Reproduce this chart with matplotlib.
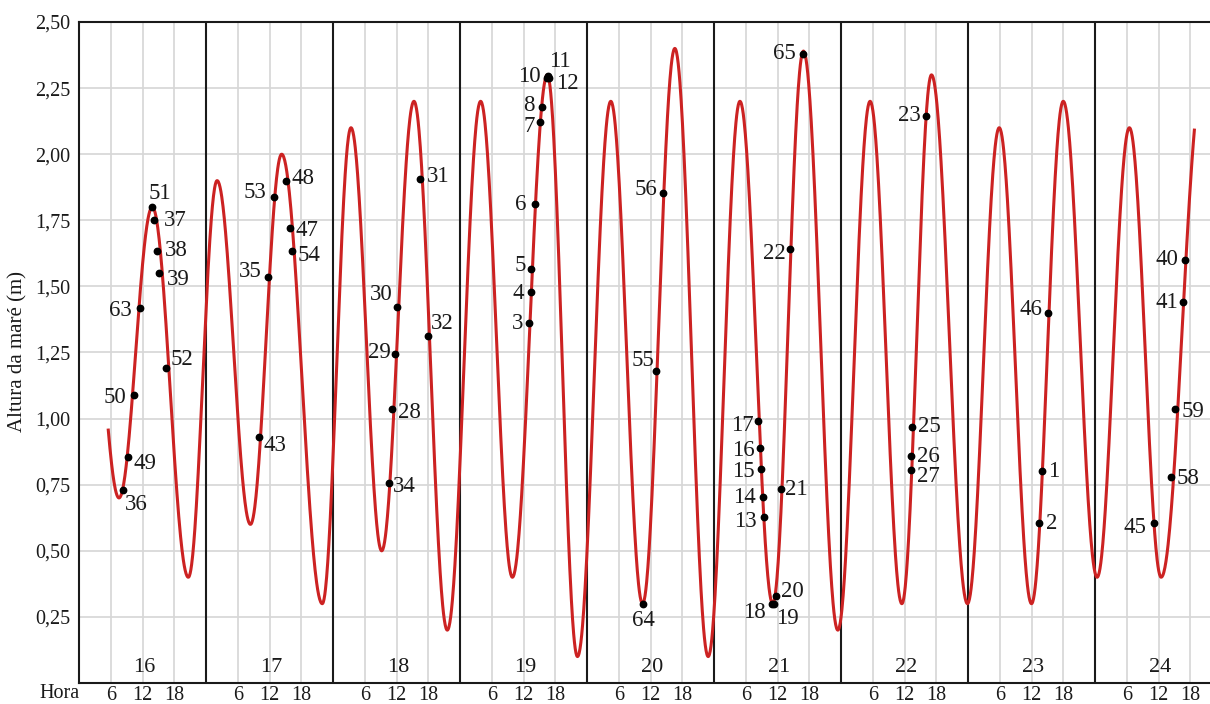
import numpy as np
import matplotlib.pyplot as plt

# hours counted from day 16, 00h
days = [16, 17, 18, 19, 20, 21, 22, 23, 24]

# high / low tide turning points (first and last are just off the drawn part)
tide_hours = [1.4, 7.56, 13.85, 20.66, 26.1, 32.4, 38.3, 45.97, 51.4, 57.2, 63.3, 69.6,
              75.9, 81.9, 88.5, 94.2, 100.5, 106.5, 112.6, 118.9, 124.9, 131.1, 136.9,
              143.4, 149.5, 155.5, 161.1, 167.9, 173.9, 180.0, 186.0, 192.4, 198.5,
              204.5, 212.5]
tide_heights = [1.75, 0.70, 1.80, 0.40, 1.90, 0.60, 2.00, 0.30, 2.10, 0.50, 2.20, 0.20,
                2.20, 0.40, 2.30, 0.10, 2.20, 0.30, 2.40, 0.10, 2.20, 0.30, 2.39,
                0.20, 2.20, 0.30, 2.30, 0.30, 2.10, 0.30, 2.20, 0.40, 2.10,
                0.40, 2.30]
curve_start = 5.5
curve_end = 210.8

# numbered observation points
point_ids = [51, 37, 38, 39, 63, 52, 50, 49, 36,
             53, 48, 47, 54, 35, 43,
             31, 30, 32, 29, 28, 34,
             10, 11, 12, 8, 7, 6, 5, 4, 3,
             56, 55, 64,
             65, 22, 17, 16, 15, 14, 13, 21, 18, 19, 20,
             23, 25, 26, 27,
             46, 1, 2,
             40, 41, 59, 58, 45]
point_hours = [13.85, 14.2, 14.8, 15.2, 11.5, 16.4, 10.3, 9.2, 8.26,
               36.9, 39.1, 39.9, 40.25, 35.8, 34.0,
               64.5, 60.15, 65.9, 59.8, 59.15, 58.5,
               88.4, 88.6, 88.8, 87.55, 87.2, 86.2, 85.5, 85.35, 85.1,
               110.4, 109.0, 106.6,
               136.9, 134.4, 128.4, 128.7, 128.9, 129.2, 129.4, 132.6, 130.9, 131.4, 131.7,
               160.1, 157.5, 157.2, 157.2,
               183.2, 181.9, 181.4,
               209.0, 208.6, 207.1, 206.3, 203.2]
point_heights = [1.80, 1.75, 1.635, 1.55, 1.42, 1.19, 1.09, 0.856, 0.73,
                 1.837, 1.90, 1.72, 1.635, 1.537, 0.93,
                 1.905, 1.423, 1.313, 1.244, 1.036, 0.755,
                 2.29, 2.295, 2.29, 2.177, 2.12, 1.81, 1.567, 1.478, 1.36,
                 1.852, 1.18, 0.30,
                 2.38, 1.64, 0.99, 0.89, 0.81, 0.705, 0.628, 0.735, 0.30, 0.30, 0.33,
                 2.145, 0.97, 0.86, 0.805,
                 1.40, 0.80, 0.605,
                 1.60, 1.44, 1.035, 0.78, 0.605]

# label offsets from each dot, in pixels (right, up)
label_offsets = {
    51: (8, 14), 37: (21, 0), 38: (19, 0), 39: (19, -6), 63: (-19, -3), 52: (16, 9),
    50: (-19, -3), 49: (17, -7), 36: (14, -15),
    53: (-19, 5), 48: (17, 2), 47: (17, -2), 54: (17, -5), 35: (-18, 5), 43: (16, -8),
    31: (18, 3), 30: (-16, 12), 32: (15, 12), 29: (-16, 2), 28: (17, -3), 34: (16, -3),
    10: (-17, 1), 11: (12, 15), 12: (18, -6), 8: (-13, 2), 7: (-11, -4), 6: (-14, 0),
    5: (-11, 3), 4: (-12, -1), 3: (-12, 0),
    56: (-17, 4), 55: (-13, 11), 64: (0, -17),
    65: (-19, 0), 22: (-16, -4), 17: (-16, -4), 16: (-17, -3), 15: (-18, -3),
    14: (-18, -1), 13: (-18, -5), 21: (16, -1), 18: (-17, -9), 19: (13, -15), 20: (16, 4),
    23: (-17, 0), 25: (17, 0), 26: (18, -1), 27: (18, -6),
    46: (-17, 3), 1: (12, 0), 2: (13, 0),
    40: (-18, 0), 41: (-16, 0), 59: (18, -2), 58: (17, -2), 45: (-19, -4),
}

plt.rcParams['font.family'] = ['Liberation Serif', 'DejaVu Serif']

fig = plt.figure(figsize=(12.1, 7.04), dpi=100)
ax = fig.add_axes([79 / 1210, 21 / 704, 1131 / 1210, 661 / 704])

# smooth half-cosine between each high and low tide
tt, yy = [], []
for i in range(len(tide_hours) - 1):
    s = np.linspace(0, 1, 80)
    t0, t1 = tide_hours[i], tide_hours[i + 1]
    h0, h1 = tide_heights[i], tide_heights[i + 1]
    tt.append(t0 + (t1 - t0) * s)
    yy.append(h0 + (h1 - h0) * (1 - np.cos(np.pi * s)) / 2)
tt = np.concatenate(tt)
yy = np.concatenate(yy)
keep = (tt >= curve_start) & (tt <= curve_end)

nd = len(days)
xmax = 1131 / 127 * 24

# grid
for v in np.arange(0.25, 2.51, 0.25):
    ax.axhline(v, color='#d6d6d6', lw=1.2, zorder=0)
for d in range(nd):
    for h in (6, 12, 18):
        ax.axvline(d * 24 + h, color='#d6d6d6', lw=1.2, zorder=0)
for d in range(1, nd):
    ax.axvline(d * 24, color='#1a1a1a', lw=1.5, zorder=1)

ax.plot(tt[keep], yy[keep], color='#cc2222', lw=2.2, zorder=2)
ax.plot(point_hours, point_heights, 'o', color='black', ms=4.6, zorder=3)

for pid, ph, pv in zip(point_ids, point_hours, point_heights):
    dx, dy = label_offsets[pid]
    ax.annotate(str(pid), (ph, pv), xytext=(dx, dy), textcoords='offset pixels',
                ha='center', va='center', fontsize=16.5, color='#1a1a1a', zorder=4)

for d, day in enumerate(days):
    ax.text(d * 24 + 12.3, 0.06, str(day), ha='center', va='center', fontsize=16, color='#1a1a1a')

ax.set_xlim(0, xmax)
ax.set_ylim(0, 2.5)

yt = np.arange(0.25, 2.51, 0.25)
ax.set_yticks(yt)
ax.set_yticklabels([f"{v:.2f}".replace('.', ',') for v in yt])
xt = [d * 24 + h for d in range(nd) for h in (6, 12, 18)]
ax.set_xticks(xt)
ax.set_xticklabels([str(h) for d in range(nd) for h in (6, 12, 18)])
ax.tick_params(axis='both', length=0, labelsize=14.5, colors='#1a1a1a')
ax.tick_params(axis='x', pad=2)
ax.tick_params(axis='y', pad=6)

for side in ('left', 'top', 'bottom'):
    ax.spines[side].set_color('#1a1a1a')
    ax.spines[side].set_linewidth(1.5)
ax.spines['right'].set_visible(False)

fig.text(60 / 1210, 1 - 693 / 704, 'Hora', ha='center', va='center', fontsize=14.5, color='#1a1a1a')
fig.text(18 / 1210, 1 - 352 / 704, 'Altura da maré (m)', rotation=90, ha='center', va='center',
         fontsize=15, color='#1a1a1a')

fig.savefig('out.png', dpi=100)
